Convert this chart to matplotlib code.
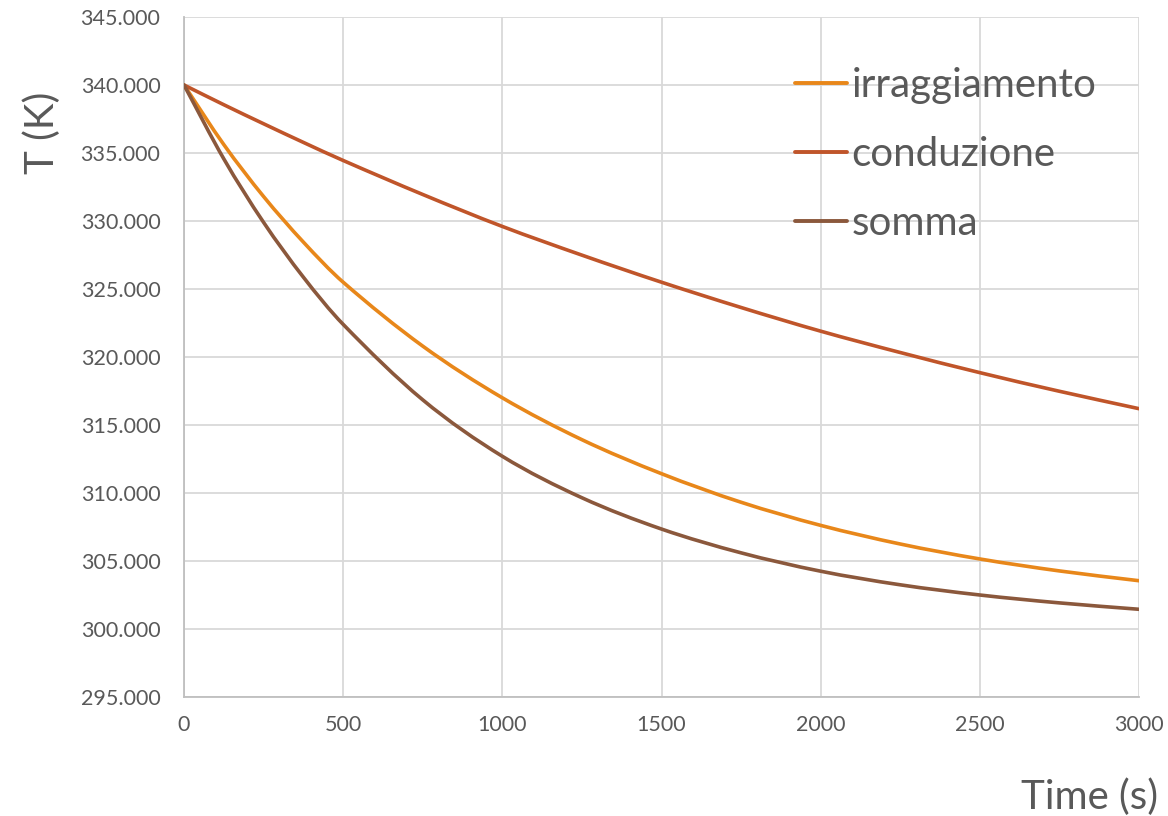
import matplotlib
matplotlib.use("Agg")
import matplotlib.pyplot as plt
from matplotlib.ticker import FormatStrFormatter
from matplotlib.path import Path
from matplotlib.patches import PathPatch
from matplotlib.lines import Line2D

plt.rcParams['font.family'] = ['Lato', 'DejaVu Sans']

# Data
time_s = [0, 125, 250, 375, 500, 750, 1000, 1250, 1500, 1750, 2000, 2250, 2500, 2750, 3000]
irraggiamento = [340.0, 335.62, 331.8, 328.45, 325.5, 320.8, 317.0, 313.92, 311.42, 309.32, 307.62, 306.25, 305.15, 304.27, 303.55]
conduzione = [340.0, 338.55, 337.15, 335.78, 334.45, 331.95, 329.6, 327.49, 325.5, 323.64, 321.9, 320.33, 318.85, 317.48, 316.2]
somma = [340.0, 334.57, 329.9, 325.87, 322.4, 316.85, 312.7, 309.65, 307.35, 305.6, 304.25, 303.25, 302.5, 301.92, 301.45]

series_names = ["irraggiamento", "conduzione", "somma"]
colors = ["#E8871A", "#C0552A", "#8B583C"]
x_ticks = [0, 500, 1000, 1500, 2000, 2500, 3000]
y_ticks = [295, 300, 305, 310, 315, 320, 325, 330, 335, 340, 345]

text_color = "#595959"


def smooth_path(xs, ys):
    """Excel-style smoothed line: cubic Bezier segments through the data points."""
    n = len(xs)
    verts = [(xs[0], ys[0])]
    codes = [Path.MOVETO]
    for i in range(n - 1):
        i0 = max(i - 1, 0)
        i3 = min(i + 2, n - 1)
        h = xs[i + 1] - xs[i]
        m1 = (ys[i + 1] - ys[i0]) / (xs[i + 1] - xs[i0])
        m2 = (ys[i3] - ys[i]) / (xs[i3] - xs[i])
        c1 = (xs[i] + h / 3, ys[i] + m1 * h / 3)
        c2 = (xs[i + 1] - h / 3, ys[i + 1] - m2 * h / 3)
        verts += [c1, c2, (xs[i + 1], ys[i + 1])]
        codes += [Path.CURVE4, Path.CURVE4, Path.CURVE4]
    return Path(verts, codes)


fig = plt.figure(figsize=(11.68, 8.16), dpi=100)
ax = fig.add_axes([184 / 1168, 1 - 697 / 816, (1139 - 184) / 1168, (697 - 17) / 816])

handles = []
for name, vals, c in zip(series_names, [irraggiamento, conduzione, somma], colors):
    patch = PathPatch(smooth_path(time_s, vals), facecolor='none', edgecolor=c,
                      lw=2.6, capstyle='round', joinstyle='round', zorder=3)
    ax.add_patch(patch)
    handles.append(Line2D([], [], color=c, lw=2.8, label=name, solid_capstyle='round'))

ax.set_xlim(0, 3000)
ax.set_ylim(295, 345)
ax.set_xticks(x_ticks)
ax.set_yticks(y_ticks)
ax.yaxis.set_major_formatter(FormatStrFormatter('%.3f'))
ax.grid(True, color="#D9D9D9", lw=1.3)
ax.set_axisbelow(True)
for s in ['top', 'right']:
    ax.spines[s].set_visible(False)
for s in ['left', 'bottom']:
    ax.spines[s].set_color("#BFBFBF")
    ax.spines[s].set_linewidth(1.3)
ax.tick_params(axis='both', length=0, labelsize=15.5, labelcolor=text_color)
ax.tick_params(axis='y', pad=17)
ax.tick_params(axis='x', pad=13)

fig.text(42 / 1168, 1 - 133 / 816, "T (K)", rotation=90, ha='center', va='center',
         fontsize=29, color=text_color)
fig.text(1158 / 1168, 1 - 797 / 816, "Time (s)", ha='right', va='center',
         fontsize=29, color=text_color)

leg = ax.legend(handles=handles, loc='upper left', bbox_to_anchor=(795 / 1168, 1 - 67 / 816),
                bbox_transform=fig.transFigure, frameon=False, fontsize=29,
                handlelength=1.3, handletextpad=0.1, labelspacing=0.79,
                borderaxespad=0, borderpad=0)
for t in leg.get_texts():
    t.set_color(text_color)

fig.savefig("out.png", dpi=100, facecolor="white")
